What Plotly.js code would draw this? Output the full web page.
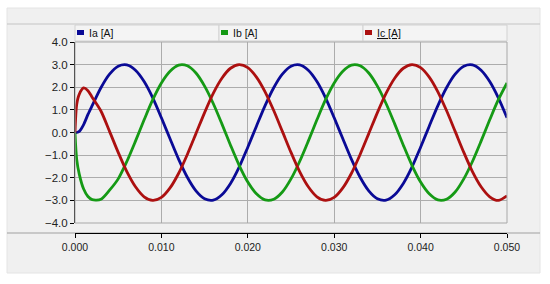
<!DOCTYPE html>
<html>
<head>
<meta charset="utf-8">
<script src="https://cdn.plot.ly/plotly-3.0.1.min.js"></script>
<style>
  html, body { margin: 0; padding: 0; background: #fff; }
  #chart { width: 550px; height: 284px; }
</style>
</head>
<body>
<div id="chart"></div>
<script>
// time axis in seconds (extra points at the start for the switch-on transient)
const time = [0, 0.0002, 0.0005, 0.001, 0.0015, 0.002, 0.003, 0.004, 0.005, 0.006, 0.007, 0.008, 0.009,
    0.010, 0.011, 0.012, 0.013, 0.014, 0.015, 0.016, 0.017, 0.018, 0.019,
    0.020, 0.021, 0.022, 0.023, 0.024, 0.025, 0.026, 0.027, 0.028, 0.029,
    0.030, 0.031, 0.032, 0.033, 0.034, 0.035, 0.036, 0.037, 0.038, 0.039,
    0.040, 0.041, 0.042, 0.043, 0.044, 0.045, 0.046, 0.047, 0.048, 0.049, 0.050];

const ia = [0, 0, 0.05, 0.35, 0.8, 1.2, 1.98, 2.58, 2.93, 2.99, 2.75, 2.25, 1.53,
    0.65, -0.28, -1.19, -1.98, -2.58, -2.93, -2.99, -2.75, -2.25, -1.53,
    -0.65, 0.28, 1.19, 1.98, 2.58, 2.93, 2.99, 2.75, 2.25, 1.53,
    0.65, -0.28, -1.19, -1.98, -2.58, -2.93, -2.99, -2.75, -2.25, -1.53,
    -0.65, 0.28, 1.19, 1.98, 2.58, 2.93, 2.99, 2.75, 2.25, 1.53, 0.65];

const ib = [0, -1.2, -1.85, -2.5, -2.83, -2.97, -2.95, -2.55, -2.05, -1.28, -0.38, 0.56, 1.45,
    2.19, 2.71, 2.98, 2.95, 2.63, 2.05, 1.28, 0.38, -0.56, -1.45,
    -2.19, -2.71, -2.98, -2.95, -2.63, -2.05, -1.28, -0.38, 0.56, 1.45,
    2.19, 2.71, 2.98, 2.95, 2.63, 2.05, 1.28, 0.38, -0.56, -1.45,
    -2.19, -2.71, -2.98, -2.95, -2.63, -2.05, -1.28, -0.38, 0.56, 1.45, 2.19];

const ic = [0, 1.25, 1.7, 1.97, 1.85, 1.55, 0.95, 0.05, -0.88, -1.73, -2.40, -2.84, -3.0,
    -2.87, -2.45, -1.80, -0.97, -0.05, 0.88, 1.73, 2.40, 2.84, 3.0,
    2.87, 2.45, 1.80, 0.97, 0.05, -0.88, -1.73, -2.40, -2.84, -3.0,
    -2.87, -2.45, -1.80, -0.97, -0.05, 0.88, 1.73, 2.40, 2.84, 3.0,
    2.87, 2.45, 1.80, 0.97, 0.05, -0.88, -1.73, -2.40, -2.84, -3.0, -2.8];

const names = ['Ia [A]', 'Ib [A]', 'Ic [A]'];
const colors = ['#0a0a96', '#159a15', '#ac1010'];
const series = [ia, ib, ic];

const traces = series.map((s, i) => ({
    x: time,
    y: s,
    name: names[i],
    type: 'scatter',
    mode: 'lines',
    line: { color: colors[i], width: 2.8, shape: 'spline', smoothing: 0.8 },
    showlegend: false,
    hoverinfo: 'x+y+name'
}));

// pixel helpers for the frame around the plot (plot area is 75..507 x 42..233)
const px = v => (v - 75) / 432;
const py = v => (233 - v) / 191;

const shapes = [
    // light grey panel
    { type: 'rect', xref: 'paper', yref: 'paper', x0: px(7), x1: px(540), y0: py(273), y1: py(8),
      fillcolor: '#f0f0f0', line: { width: 1, color: '#e4e4e4' }, layer: 'below' },
    // top separator
    { type: 'line', xref: 'paper', yref: 'paper', x0: px(7), x1: px(540), y0: py(24), y1: py(24),
      line: { width: 1, color: '#c4c4c4' }, layer: 'below' },
    // bottom separator
    { type: 'line', xref: 'paper', yref: 'paper', x0: px(7), x1: px(540), y0: 0, y1: 0,
      line: { width: 1, color: '#a0a0a0' }, layer: 'below' },
    // plot frame
    { type: 'rect', xref: 'x domain', yref: 'y domain', x0: 0, x1: 1, y0: 0, y1: 1,
      line: { width: 1, color: '#a8a8a8' } }
];

const annotations = [];
names.forEach((n, i) => {
    const c0 = i / 3, c1 = (i + 1) / 3;
    shapes.push({ type: 'rect', xref: 'paper', yref: 'paper', x0: c0, x1: c1, y0: py(41), y1: py(25),
        fillcolor: '#f4f4f4', line: { width: 1, color: '#d2d2d2' }, layer: 'below' });
    const sx = c0 + px(77);
    shapes.push({ type: 'rect', xref: 'paper', yref: 'paper', x0: sx, x1: sx + 7 / 432, y0: py(35), y1: py(30),
        fillcolor: colors[i], line: { width: 0 } });
    annotations.push({
        xref: 'paper', yref: 'paper', x: sx + 10 / 432, y: py(33), xanchor: 'left', yanchor: 'middle',
        showarrow: false,
        text: i === 2 ? '<span style="text-decoration:underline">' + n + '</span>' : n,
        font: { size: 10.5, color: '#111' }
    });
});

const layout = {
    width: 550,
    height: 284,
    autosize: false,
    margin: { l: 75, r: 43, t: 42, b: 51 },
    paper_bgcolor: '#ffffff',
    plot_bgcolor: '#ffffff',
    font: { family: 'Liberation Sans, Arial, sans-serif', size: 11, color: '#222' },
    showlegend: false,
    xaxis: {
        range: [0, 0.05],
        dtick: 0.01,
        tickformat: '.3f',
        anchor: 'free',
        position: 0,
        showline: true,
        linecolor: '#000',
        linewidth: 1,
        ticks: 'outside',
        ticklen: 4,
        tickcolor: '#000',
        showgrid: true,
        gridcolor: '#acacac',
        gridwidth: 1,
        zeroline: false,
        tickfont: { size: 10.5 }
    },
    yaxis: {
        domain: [10 / 191, 1],
        range: [-4, 4],
        dtick: 1,
        tickformat: '.1f',
        showline: true,
        linecolor: '#000',
        linewidth: 1,
        ticks: 'outside',
        ticklen: 4,
        tickcolor: '#000',
        showgrid: true,
        gridcolor: '#acacac',
        gridwidth: 1,
        zeroline: false,
        tickfont: { size: 11.5 }
    },
    shapes: shapes,
    annotations: annotations
};

Plotly.newPlot('chart', traces, layout, { displayModeBar: false, staticPlot: true });
</script>
</body>
</html>
